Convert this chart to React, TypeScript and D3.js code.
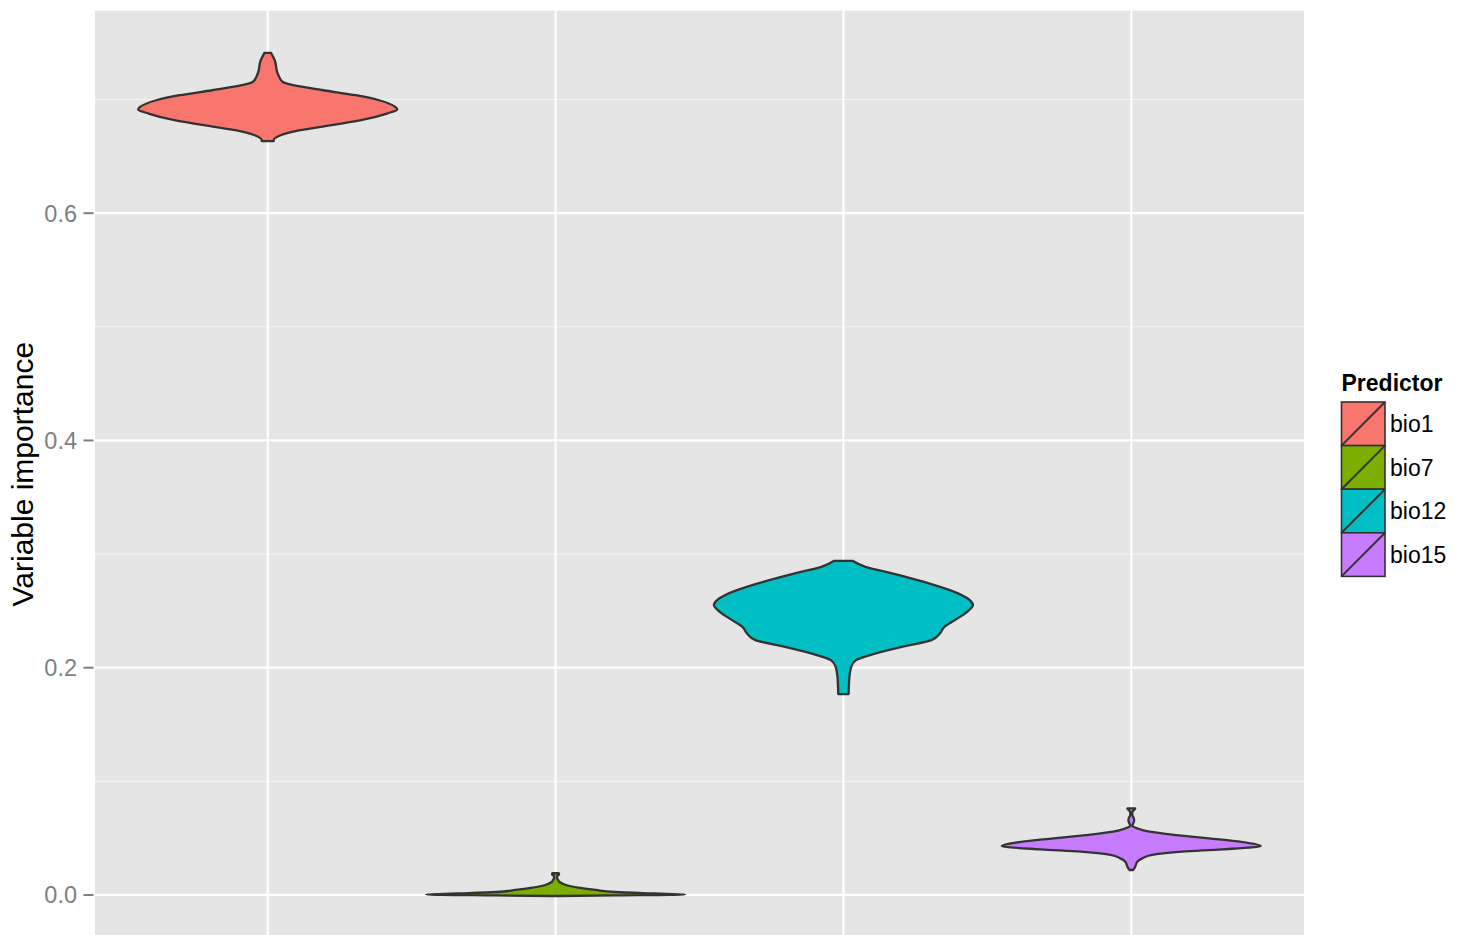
import React from "react";
import * as d3 from "d3";

const categories = ["bio1", "bio7", "bio12", "bio15"];
const colors = ["#F8766D", "#7CAE00", "#00BFC4", "#C77CFF"];
const yTicks = [0.0, 0.2, 0.4, 0.6];
const yMinorTicks = [0.1, 0.3, 0.5, 0.7];
const yDomain: [number, number] = [-0.0376, 0.7782];

// [value, relative half-width (1 = widest)]
const bio1Profile: [number, number][] = [
  [0.7411, 0.025], [0.7346, 0.054], [0.7229, 0.077], [0.7155, 0.115], [0.7126, 0.2],
  [0.7082, 0.43], [0.7038, 0.68], [0.6994, 0.86], [0.6935, 0.985], [0.6912, 1.0],
  [0.6877, 0.92], [0.6818, 0.72], [0.6759, 0.41], [0.673, 0.25], [0.6686, 0.1],
  [0.6642, 0.046], [0.6634, 0.046],
];
const bio7Profile: [number, number][] = [
  [0.0191, 0.025], [0.018, 0.027], [0.0167, 0.012], [0.015, 0.012], [0.0132, 0.02],
  [0.0114, 0.03], [0.0097, 0.06], [0.0079, 0.11], [0.0062, 0.19], [0.0044, 0.31],
  [0.0026, 0.46], [0.0013, 0.77], [0.0004, 1.0], [-0.0004, 0.46], [-0.0009, 0.02],
];
const bio12Profile: [number, number][] = [
  [0.2941, 0.07], [0.2888, 0.17], [0.283, 0.375], [0.2742, 0.66], [0.2654, 0.885],
  [0.2595, 0.975], [0.2551, 1.0], [0.2492, 0.955], [0.2419, 0.86], [0.236, 0.78],
  [0.2302, 0.745], [0.2243, 0.68], [0.2184, 0.45], [0.2126, 0.25], [0.2067, 0.097],
  [0.2008, 0.06], [0.192, 0.046], [0.1768, 0.04],
];
const bio15Profile: [number, number][] = [
  [0.0762, 0.03], [0.0745, 0.02], [0.0732, 0.008], [0.0703, 0.008], [0.0674, 0.02],
  [0.0653, 0.022], [0.063, 0.015], [0.0609, 0.008], [0.0586, 0.046], [0.0557, 0.14],
  [0.0527, 0.35], [0.0498, 0.6], [0.0468, 0.85], [0.043, 1.0], [0.0401, 0.7],
  [0.0381, 0.39], [0.0352, 0.16], [0.0322, 0.085], [0.0293, 0.046], [0.0249, 0.03],
  [0.022, 0.015],
];
const profiles = [bio1Profile, bio7Profile, bio12Profile, bio15Profile];

const W = 1469;
const H = 935;
const panel = { left: 95, right: 1304, top: 10.7, bottom: 937.7 };
const FONT = "'Liberation Sans', Arial, sans-serif";

export default function App() {
  const x = d3
    .scalePoint<string>()
    .domain(categories)
    .range([panel.left, panel.right])
    .padding(0.6);
  const y = d3.scaleLinear().domain(yDomain).range([panel.bottom, panel.top]);
  const halfMax = 0.45 * x.step();

  const violins = profiles.map((prof, i) => {
    const cx = x(categories[i]) as number;
    const area = d3
      .area<[number, number]>()
      .y((d) => y(d[0]))
      .x0((d) => cx - d[1] * halfMax)
      .x1((d) => cx + d[1] * halfMax)
      .curve(d3.curveMonotoneY);
    return area(prof) as string;
  });

  const legendX = 1341.5;
  const legendTop = 402;
  const keyH = 43.6;
  const keyW = 43.5;

  return (
    <svg
      width={W}
      height={H}
      style={{ position: "absolute", left: 0, top: 0, background: "#fff" }}
      fontFamily={FONT}
    >
      <defs>
        <clipPath id="pclip">
          <rect
            x={panel.left}
            y={panel.top}
            width={panel.right - panel.left}
            height={panel.bottom - panel.top}
          />
        </clipPath>
      </defs>
      <rect
        x={panel.left}
        y={panel.top}
        width={panel.right - panel.left}
        height={panel.bottom - panel.top}
        fill="#E5E5E5"
      />
      {yMinorTicks.map((t) => (
        <line
          key={"mn" + t}
          x1={panel.left}
          x2={panel.right}
          y1={y(t)}
          y2={y(t)}
          stroke="#F2F2F2"
          strokeWidth={1.1}
        />
      ))}
      {yTicks.map((t) => (
        <line
          key={"mj" + t}
          x1={panel.left}
          x2={panel.right}
          y1={y(t)}
          y2={y(t)}
          stroke="#FFFFFF"
          strokeWidth={2.2}
        />
      ))}
      {categories.map((c) => (
        <line
          key={"vx" + c}
          x1={x(c)}
          x2={x(c)}
          y1={panel.top}
          y2={panel.bottom}
          stroke="#FFFFFF"
          strokeWidth={2.2}
        />
      ))}
      <g clipPath="url(#pclip)">
        {violins.map((p, i) => (
          <path
            key={"v" + i}
            d={p}
            fill={colors[i]}
            stroke="#333333"
            strokeWidth={2.3}
            strokeLinejoin="round"
          />
        ))}
      </g>
      {yTicks.map((t) => (
        <g key={"yt" + t}>
          <line
            x1={83.5}
            x2={panel.left - 1.5}
            y1={y(t)}
            y2={y(t)}
            stroke="#7F7F7F"
            strokeWidth={2}
          />
          <text
            x={77}
            y={y(t)}
            dy="0.36em"
            textAnchor="end"
            fontSize={23.5}
            fill="#7F7F7F"
          >
            {t.toFixed(1)}
          </text>
        </g>
      ))}
      <text
        transform={`translate(33, ${(panel.top + panel.bottom) / 2}) rotate(-90)`}
        textAnchor="middle"
        fontSize={30}
        fill="#000"
      >
        Variable importance
      </text>
      <text x={legendX} y={391} fontSize={23} fontWeight="bold" fill="#000">
        Predictor
      </text>
      {categories.map((c, i) => {
        const ky = legendTop + i * keyH;
        return (
          <g key={"lg" + c}>
            <rect
              x={legendX}
              y={ky}
              width={keyW}
              height={keyH}
              fill={colors[i]}
              stroke="#333333"
              strokeWidth={1.6}
            />
            <line
              x1={legendX}
              y1={ky + keyH}
              x2={legendX + keyW}
              y2={ky}
              stroke="#333333"
              strokeWidth={2}
            />
            <text
              x={1390}
              y={ky + keyH / 2}
              dy="0.36em"
              fontSize={23}
              fill="#000"
            >
              {c}
            </text>
          </g>
        );
      })}
    </svg>
  );
}
